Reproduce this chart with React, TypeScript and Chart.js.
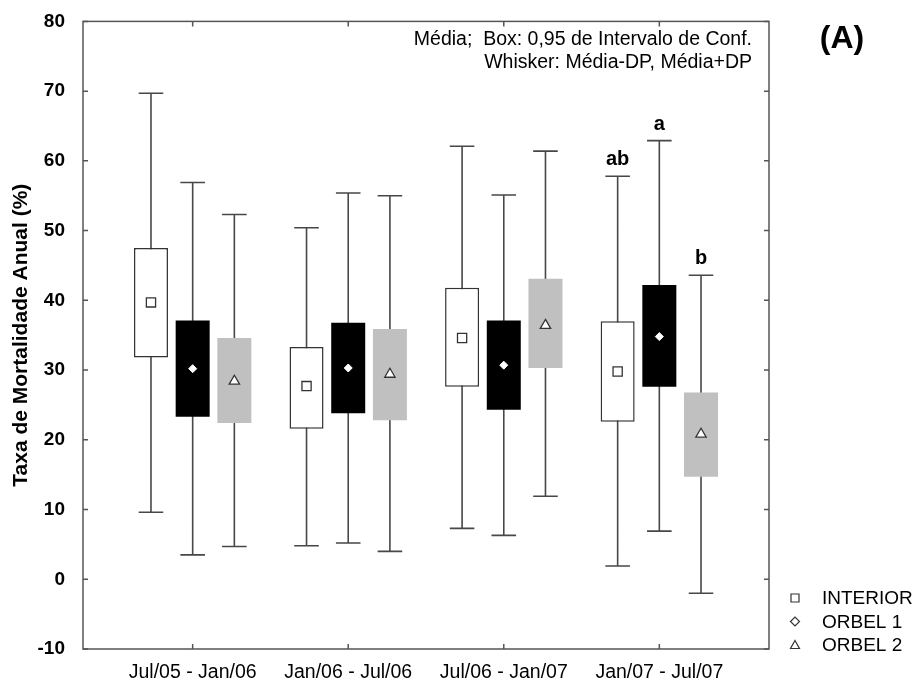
import React, { useEffect, useRef } from 'react';
import { Chart, registerables } from 'chart.js';

Chart.register(...registerables);

// ---------- data ----------
const categories = ['Jul/05 - Jan/06', 'Jan/06 - Jul/06', 'Jul/06 - Jan/07', 'Jan/07 - Jul/07'];
const seriesNames = ['INTERIOR', 'ORBEL 1', 'ORBEL 2'];
const yTickValues = [-10, 0, 10, 20, 30, 40, 50, 60, 70, 80];

// mean
const interiorMean = [39.7, 27.7, 34.6, 29.8];
const orbel1Mean = [30.2, 30.3, 30.7, 34.8];
const orbel2Mean = [28.4, 29.4, 36.4, 20.8];

// box: 0.95 confidence interval
const interiorCiLow = [31.8, 21.6, 27.6, 22.6];
const interiorCiHigh = [47.5, 33.3, 41.8, 37.0];
const orbel1CiLow = [23.3, 23.8, 24.3, 27.6];
const orbel1CiHigh = [37.1, 36.8, 37.1, 42.2];
const orbel2CiLow = [22.4, 22.8, 30.3, 14.7];
const orbel2CiHigh = [34.6, 35.9, 43.1, 26.8];

// whisker: mean - SD, mean + SD
const interiorSdLow = [9.6, 4.8, 7.3, 1.9];
const interiorSdHigh = [69.7, 50.4, 62.1, 57.8];
const orbel1SdLow = [3.5, 5.2, 6.3, 6.9];
const orbel1SdHigh = [56.9, 55.4, 55.1, 62.9];
const orbel2SdLow = [4.7, 4.0, 11.9, -2.0];
const orbel2SdHigh = [52.3, 55.0, 61.4, 43.6];

// significance letters (last period)
const sigCategoryIndex = 3;
const sigLetters = ['ab', 'a', 'b'];

const yTitle = 'Taxa de Mortalidade Anual (%)';
const noteLine1 = 'Média;  Box: 0,95 de Intervalo de Conf.';
const noteLine2 = 'Whisker: Média-DP, Média+DP';
const panelLabel = '(A)';

// ---------- styles ----------
const FONT = "'Liberation Sans', Arial, sans-serif";
const LINE = '#474747';
const seriesOffsets = [-0.268, 0, 0.268];
const capHalf = 0.079;

const seriesData = [
  { mean: interiorMean, ciLow: interiorCiLow, ciHigh: interiorCiHigh, sdLow: interiorSdLow, sdHigh: interiorSdHigh },
  { mean: orbel1Mean, ciLow: orbel1CiLow, ciHigh: orbel1CiHigh, sdLow: orbel1SdLow, sdHigh: orbel1SdHigh },
  { mean: orbel2Mean, ciLow: orbel2CiLow, ciHigh: orbel2CiHigh, sdLow: orbel2SdLow, sdHigh: orbel2SdHigh },
];

const seriesStyles = [
  { fill: '#ffffff', border: '#333333', borderWidth: 1.5, pointStyle: 'rect', radius: 6.5, pFill: '#ffffff', pBorder: '#333333', pBw: 1.3 },
  { fill: '#000000', border: '#000000', borderWidth: 0, pointStyle: 'rectRot', radius: 4, pFill: '#ffffff', pBorder: '#ffffff', pBw: 1 },
  { fill: '#c0c0c0', border: '#c0c0c0', borderWidth: 0, pointStyle: 'triangle', radius: 6, pFill: '#ffffff', pBorder: '#333333', pBw: 1.3 },
];

function buildDatasets() {
  const ds: any[] = [];
  seriesData.forEach((s, si) => {
    const st = seriesStyles[si];
    const off = seriesOffsets[si];
    // whiskers
    const wpts: any[] = [];
    categories.forEach((_, i) => {
      const x = i + 1 + off;
      wpts.push({ x, y: s.sdHigh[i] }, { x, y: s.sdLow[i] }, { x, y: null });
      wpts.push({ x: x - capHalf, y: s.sdHigh[i] }, { x: x + capHalf, y: s.sdHigh[i] }, { x, y: null });
      wpts.push({ x: x - capHalf, y: s.sdLow[i] }, { x: x + capHalf, y: s.sdLow[i] }, { x, y: null });
    });
    ds.push({
      type: 'line',
      label: seriesNames[si] + ' whisker',
      data: wpts,
      borderColor: LINE,
      borderWidth: 1.6,
      pointRadius: 0,
      spanGaps: false,
      tension: 0,
      fill: false,
      order: 3,
    });
    // boxes
    ds.push({
      type: 'bar',
      label: seriesNames[si],
      data: categories.map((_, i) => ({ x: i + 1 + off, y: [s.ciLow[i], s.ciHigh[i]] })),
      backgroundColor: st.fill,
      borderColor: st.border,
      borderWidth: st.borderWidth,
      borderSkipped: false,
      grouped: false,
      barPercentage: 0.95,
      categoryPercentage: 1,
      maxBarThickness: 34,
      order: 2,
    });
    // means
    ds.push({
      type: 'scatter',
      label: seriesNames[si] + ' mean',
      data: categories.map((_, i) => ({ x: i + 1 + off, y: s.mean[i] })),
      pointStyle: st.pointStyle,
      pointRadius: st.radius,
      pointBackgroundColor: st.pFill,
      pointBorderColor: st.pBorder,
      pointBorderWidth: st.pBw,
      order: 1,
    });
  });
  return ds;
}

const decorPlugin = {
  id: 'decor',
  afterDraw(chart: any) {
    const { ctx, chartArea } = chart;
    const { left, right, top, bottom } = chartArea;
    const xs = chart.scales.x;
    const ys = chart.scales.y;
    ctx.save();
    // frame
    ctx.strokeStyle = '#555555';
    ctx.lineWidth = 1.5;
    ctx.strokeRect(left, top, right - left, bottom - top);
    // inner ticks
    ctx.beginPath();
    yTickValues.forEach((v) => {
      const y = ys.getPixelForValue(v);
      ctx.moveTo(left, y); ctx.lineTo(left + 5, y);
      ctx.moveTo(right, y); ctx.lineTo(right - 5, y);
    });
    categories.forEach((_, i) => {
      const x = xs.getPixelForValue(i + 1);
      ctx.moveTo(x, bottom); ctx.lineTo(x, bottom - 5);
      ctx.moveTo(x, top); ctx.lineTo(x, top + 5);
    });
    ctx.stroke();

    // note text
    ctx.fillStyle = '#000';
    ctx.font = `19.5px ${FONT}`;
    ctx.textAlign = 'right';
    ctx.textBaseline = 'alphabetic';
    ctx.fillText(noteLine1, 752, 45);
    ctx.fillText(noteLine2, 752, 68);

    // panel label
    ctx.font = `bold 32px ${FONT}`;
    ctx.textAlign = 'center';
    ctx.textBaseline = 'middle';
    ctx.fillText(panelLabel, 842, 39);

    // significance letters
    ctx.font = `bold 20px ${FONT}`;
    ctx.textAlign = 'center';
    ctx.textBaseline = 'alphabetic';
    sigLetters.forEach((t, si) => {
      const x = xs.getPixelForValue(sigCategoryIndex + 1 + seriesOffsets[si]);
      const y = ys.getPixelForValue(seriesData[si].sdHigh[sigCategoryIndex]);
      ctx.fillText(t, x, y - 11);
    });

    // legend
    const legendY = [598, 621.5, 645];
    const mx = 795;
    ctx.strokeStyle = '#333';
    ctx.lineWidth = 1.2;
    ctx.font = `19px ${FONT}`;
    ctx.textAlign = 'left';
    ctx.textBaseline = 'middle';
    seriesNames.forEach((name, si) => {
      const y = legendY[si];
      ctx.beginPath();
      if (si === 0) {
        ctx.rect(mx - 4, y - 4, 8, 8);
      } else if (si === 1) {
        ctx.moveTo(mx - 4.5, y); ctx.lineTo(mx, y - 4.5); ctx.lineTo(mx + 4.5, y); ctx.lineTo(mx, y + 4.5); ctx.closePath();
      } else {
        ctx.moveTo(mx, y - 4.5); ctx.lineTo(mx + 4.5, y + 3.5); ctx.lineTo(mx - 4.5, y + 3.5); ctx.closePath();
      }
      ctx.stroke();
      ctx.fillStyle = '#000';
      ctx.fillText(name, 822, y + 1);
    });
    ctx.restore();
  },
};

export default function App() {
  const ref = useRef<HTMLCanvasElement | null>(null);
  useEffect(() => {
    if (!ref.current) return;
    Chart.defaults.font.family = FONT;
    const chart = new Chart(ref.current, {
      type: 'bar',
      data: { datasets: buildDatasets() },
      options: {
        animation: false,
        responsive: false,
        devicePixelRatio: 1,
        layout: { padding: { left: 0, right: 152, top: 15, bottom: 0 } },
        plugins: { legend: { display: false }, tooltip: { enabled: false } },
        scales: {
          x: {
            type: 'linear',
            min: 0.295,
            max: 4.705,
            offset: false,
            grid: { display: false },
            border: { display: false },
            afterBuildTicks: (s: any) => { s.ticks = categories.map((_, i) => ({ value: i + 1 })); },
            afterFit: (s: any) => { s.height = 33; },
            ticks: {
              autoSkip: false,
              maxRotation: 0,
              padding: 4,
              color: '#000',
              font: { size: 19.5, family: FONT },
              callback: (v: any) => categories[Math.round(Number(v)) - 1] ?? '',
            },
          },
          y: {
            type: 'linear',
            min: -10,
            max: 80,
            grid: { display: false },
            border: { display: false },
            afterBuildTicks: (s: any) => { s.ticks = yTickValues.map((v) => ({ value: v })); },
            afterFit: (s: any) => { s.width = 83; },
            ticks: { padding: 10, color: '#000', font: { size: 19, weight: 'bold', family: FONT } },
            title: {
              display: true,
              text: yTitle,
              color: '#000',
              font: { size: 21, weight: 'bold', family: FONT },
              padding: { top: 9, bottom: 0 },
            },
          },
        },
      } as any,
      plugins: [decorPlugin],
    });
    return () => chart.destroy();
  }, []);
  return (
    <div style={{ position: 'absolute', left: 0, top: 0, width: 921, height: 682 }}>
      <canvas ref={ref} width={921} height={682} style={{ display: 'block' }} />
    </div>
  );
}
